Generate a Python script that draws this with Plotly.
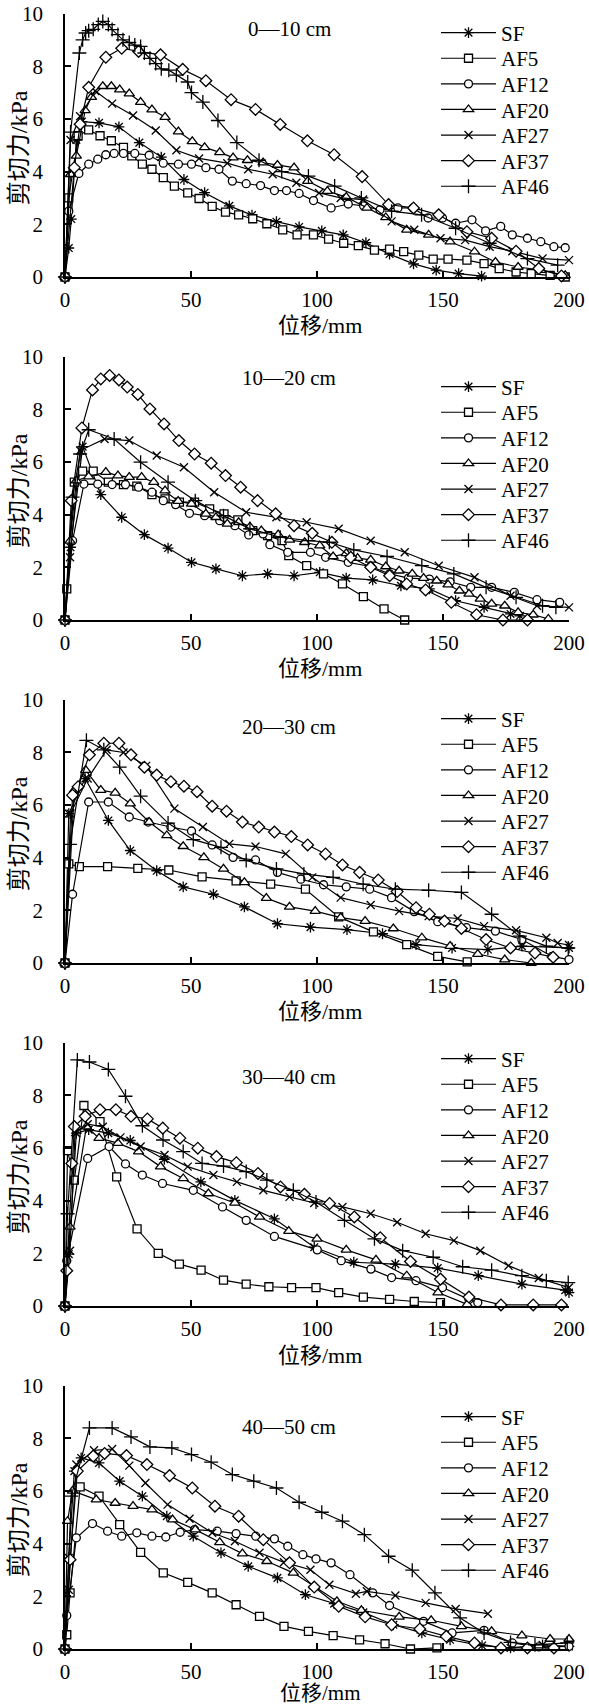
import plotly.graph_objects as go

# ---------------- data ----------------
depth_labels = ["0—10 cm", "10—20 cm", "20—30 cm", "30—40 cm", "40—50 cm"]
series_names = ["SF", "AF5", "AF12", "AF20", "AF27", "AF37", "AF46"]
x_ticks = [0, 50, 100, 150, 200]
y_ticks = [0, 2, 4, 6, 8, 10]
x_title = "位移/mm"
y_title = "剪切力/kPa"

# 0-10 cm
p1_SF_x = [0, 1.5, 2.5, 4.5, 6.7, 13.5, 21.4, 29.5, 38.2, 47.2, 55.4, 65.2, 74.2, 83.9, 92.9, 101.9, 110.4, 119.4, 128.8, 138.3, 147.3, 156.2, 165.3]
p1_SF_y = [0, 1.1, 2.2, 5.2, 5.9, 5.85, 5.7, 5.1, 4.55, 3.7, 3.2, 2.7, 2.35, 2.1, 1.9, 1.75, 1.6, 1.3, 0.87, 0.5, 0.26, 0.13, 0.03]
p1_AF5_x = [0, 1.5, 5.2, 9.4, 13.9, 18.4, 23.2, 26.5, 30.7, 34.5, 39, 43.4, 48.7, 53.2, 58.4, 63.7, 68.9, 74.5, 80.1, 86.4, 92.1, 98.6, 104.6, 110.6, 116.4, 122.8, 128.8, 134.4, 140.4, 146.1, 152, 159.5, 166.3, 172.3, 179, 185, 192.5, 198.5]
p1_AF5_y = [0, 3.0, 5.36, 5.58, 5.36, 5.17, 4.92, 4.6, 4.28, 4.09, 3.77, 3.45, 3.19, 2.98, 2.68, 2.46, 2.36, 2.21, 2.02, 1.79, 1.6, 1.6, 1.44, 1.28, 1.19, 1.02, 1.06, 0.96, 0.83, 0.68, 0.68, 0.64, 0.51, 0.32, 0.19, 0.13, 0.06, 0]
p1_AF12_x = [0, 1.5, 5.5, 9.4, 13, 16.2, 19.5, 23.2, 27.7, 33.4, 39, 45, 50.2, 55.9, 61.1, 66.4, 71.9, 77.6, 83.1, 87.9, 92.9, 98.6, 105.6, 112.4, 118.5, 125, 132.1, 138.1, 144.1, 149.8, 155, 161.5, 166.9, 172.9, 177.5, 183.5, 188.8, 194, 198.5]
p1_AF12_y = [0, 2.5, 3.93, 4.28, 4.47, 4.64, 4.69, 4.69, 4.69, 4.62, 4.32, 4.28, 4.28, 4.15, 4.09, 3.64, 3.54, 3.47, 3.28, 3.28, 3.17, 2.9, 2.62, 2.77, 2.7, 2.55, 2.62, 2.62, 2.24, 2.24, 2.04, 2.17, 1.75, 1.92, 1.6, 1.47, 1.34, 1.15, 1.11]
p1_AF20_x = [0, 2.2, 4.5, 8, 10.5, 15, 18.4, 21.7, 25.5, 30, 34.5, 39.7, 45, 50.5, 55.4, 61.4, 66.7, 72.4, 78.6, 84.3, 90.9, 96.3, 104.1, 111.6, 119.8, 127.3, 135.6, 144.3, 152.8, 162.5, 170.8, 179.8, 188.8, 198.5]
p1_AF20_y = [0, 3.9, 4.6, 6.32, 6.83, 7.24, 7.24, 7.11, 6.96, 6.64, 6.35, 6.07, 5.52, 5.15, 4.92, 4.73, 4.53, 4.43, 4.34, 4.25, 4.15, 3.64, 3.26, 3.03, 2.62, 2.26, 1.79, 1.6, 1.34, 0.96, 0.57, 0.38, 0.26, 0.06]
p1_AF27_x = [0, 2.2, 6, 12, 18.7, 27, 36, 44.2, 53.2, 64.4, 72.7, 82.4, 91.8, 100.8, 109.4, 118.3, 129.6, 138.6, 149, 158.8, 168.5, 177.5, 189.5, 200]
p1_AF27_y = [0, 5.2, 6.1, 7.06, 6.58, 6.13, 5.56, 4.81, 4.5, 4.32, 4.09, 3.9, 3.58, 3.19, 3.0, 2.94, 2.11, 1.79, 1.47, 1.4, 1.15, 0.98, 0.7, 0.64]
p1_AF37_x = [0, 3.7, 6, 9.4, 16.2, 22.5, 29.2, 37.9, 46.7, 55.9, 65.9, 75.6, 85.4, 96.2, 106.8, 117.9, 128.4, 138.3, 148.3, 159.5, 169.3, 179, 188, 197]
p1_AF37_y = [0, 4.15, 5.8, 7.2, 8.34, 8.68, 8.56, 8.43, 7.88, 7.45, 6.73, 6.36, 5.79, 5.17, 4.64, 3.81, 2.75, 2.62, 2.36, 1.72, 1.47, 0.98, 0.32, 0.04]
p1_AF46_x = [0, 2.2, 5.7, 7, 8.2, 9.4, 11.2, 13.2, 15, 17.2, 18.7, 21, 23, 25.5, 27.7, 30, 31.5, 33.7, 36, 38.2, 41.2, 44.2, 48.7, 50.2, 54.7, 60.7, 68.2, 77, 86, 96.6, 107, 117.6, 129.6, 141.5, 155, 168.5, 183.5, 195.5]
p1_AF46_y = [0, 5.5, 8.5, 9.0, 9.26, 9.35, 9.4, 9.58, 9.7, 9.58, 9.39, 9.2, 9.0, 8.9, 8.8, 8.75, 8.5, 8.3, 8.1, 7.9, 7.85, 7.66, 7.4, 7.0, 6.64, 5.94, 5.1, 4.43, 4.0, 3.83, 3.45, 3.0, 2.5, 2.36, 1.85, 1.28, 0.7, 0.45]

# 10-20 cm
p2_SF_x = [0, 2.2, 7, 14.2, 22.5, 31.5, 40.9, 50.2, 59.9, 70.4, 80.4, 90.9, 101.1, 111.6, 122.1, 133.3, 144.6, 155, 166.3, 176.8, 180.5]
p2_SF_y = [0, 2.76, 6.58, 4.76, 3.9, 3.24, 2.73, 2.19, 1.94, 1.68, 1.75, 1.68, 1.81, 1.59, 1.52, 1.3, 1.18, 0.73, 0.48, 0.23, 0.16]
p2_AF5_x = [0, 0.7, 3.7, 7, 11.2, 17.2, 23.2, 28.5, 34.5, 39.7, 45.4, 51.4, 57.4, 63.1, 68.6, 74.5, 80.4, 86.1, 88.8, 95.9, 102.6, 110.1, 118.4, 126.6, 134.8]
p2_AF5_y = [0, 1.18, 5.23, 5.65, 5.65, 5.23, 5.14, 5.08, 4.76, 4.6, 4.47, 4.47, 4.22, 4.03, 3.8, 3.39, 3.2, 3.01, 2.44, 2.06, 1.75, 1.37, 0.89, 0.42, 0]
p2_AF12_x = [0, 3, 7.5, 13, 18.7, 24, 29.2, 34.5, 39, 43.9, 49.4, 55.4, 61.4, 67.4, 72.9, 78.6, 81.3, 88.4, 97.4, 103.4, 112.4, 121.3, 128.8, 136.3, 144.6, 152.8, 161, 169.3, 178.3, 187.3, 196.3]
p2_AF12_y = [0, 3.01, 5.16, 5.16, 5.14, 5.14, 5.04, 4.85, 4.53, 4.38, 4.05, 3.96, 3.77, 3.58, 3.23, 3.27, 2.86, 2.57, 2.57, 2.38, 2.19, 2.03, 1.75, 1.59, 1.55, 1.45, 1.24, 1.24, 1.05, 0.77, 0.67]
p2_AF20_x = [0, 2, 4.5, 9.4, 16.2, 21, 25.5, 30.4, 35.2, 39.7, 44.9, 50.2, 55.9, 59.9, 64.4, 68.9, 73.4, 77.9, 84.6, 89.1, 95.1, 101.1, 106.4, 111.6, 116.1, 121.3, 127.3, 132.6, 137.8, 142.3, 147.5, 152, 156.5, 160.3, 164.8, 169.3, 174.5, 179.8, 185.8, 191.8]
p2_AF20_y = [0, 3.0, 5.29, 5.44, 5.61, 5.48, 5.42, 5.42, 5.23, 4.91, 4.51, 4.41, 4.03, 3.9, 3.65, 3.71, 3.54, 3.39, 3.24, 3.04, 2.95, 2.82, 2.41, 2.53, 2.35, 2.28, 2.03, 1.87, 1.75, 1.59, 1.49, 1.34, 1.11, 0.99, 0.8, 0.61, 0.54, 0.29, 0.2, 0.04]
p2_AF27_x = [0, 2, 6, 15.7, 25.5, 36.4, 47.2, 59.2, 71.9, 83.9, 95.9, 108.6, 121.3, 134.8, 148.3, 162.5, 176.8, 187.3, 200]
p2_AF27_y = [0, 2.38, 6.43, 6.87, 6.81, 6.24, 5.8, 4.85, 4.09, 3.9, 3.71, 3.46, 3.01, 2.57, 2.06, 1.62, 0.92, 0.54, 0.48]
p2_AF37_x = [0, 2.5, 6.7, 10.9, 14.2, 17.7, 21.4, 24.7, 28.9, 33.7, 39.3, 45.2, 51.4, 58, 63.7, 69.7, 76.4, 83.6, 90.9, 98.1, 105.9, 113.4, 121.3, 128.8, 135.6, 143.1, 153.3, 163.3, 173.8, 183.5]
p2_AF37_y = [0, 4.53, 7.29, 8.73, 9.15, 9.28, 9.11, 8.84, 8.56, 8.01, 7.44, 6.81, 6.3, 5.95, 5.48, 5.04, 4.53, 4.03, 3.58, 3.29, 2.95, 2.38, 2.0, 1.68, 1.37, 1.14, 0.67, 0.2, 0, 0]
p2_AF46_x = [0, 3, 6, 9.4, 19.5, 30, 40.9, 51.7, 62.9, 73.4, 85.4, 96.6, 104.9, 114.6, 127.8, 141.6, 154.3, 167.1, 179, 189.5, 194.8]
p2_AF46_y = [0, 4.66, 6.3, 7.22, 6.87, 5.99, 5.23, 4.53, 3.96, 3.46, 3.14, 3.01, 2.95, 2.66, 2.41, 2.06, 1.75, 1.24, 0.86, 0.54, 0.48]

# 20-30 cm
p3_SF_x = [0, 1.5, 8, 17.2, 25.9, 36.4, 46.9, 58.9, 71.2, 84.3, 97.4, 111.9, 126, 139.3, 153.6, 167.8, 181.3, 200]
p3_SF_y = [0, 5.67, 7.0, 5.41, 4.27, 3.5, 2.89, 2.61, 2.13, 1.49, 1.36, 1.27, 1.11, 0.7, 0.57, 0.51, 0.64, 0.57]
p3_AF5_x = [0, 1.5, 5.7, 16.9, 28.9, 41.2, 54.4, 67.9, 81.6, 95.4, 108.6, 122.4, 135.6, 147.9, 159.6]
p3_AF5_y = [0, 3.76, 3.66, 3.66, 3.59, 3.53, 3.27, 3.12, 2.99, 2.8, 1.75, 1.18, 0.7, 0.25, 0.04]
p3_AF12_x = [0, 3, 9.4, 17.2, 25.5, 33, 42, 50.2, 58.4, 66.7, 75.6, 84.3, 93.6, 102.6, 111.6, 120.9, 129.6, 138.6, 147.9, 159.3, 170.8, 181.3, 193.3, 200]
p3_AF12_y = [0, 2.61, 6.11, 6.11, 5.54, 5.35, 5.16, 5.01, 4.48, 4.01, 3.91, 3.44, 3.18, 2.97, 2.89, 2.8, 2.48, 1.95, 1.57, 1.34, 1.21, 0.89, 0.25, 0.13]
p3_AF20_x = [0, 3.7, 8.2, 14.2, 19.9, 25.9, 33.4, 40.4, 46.9, 55.1, 62.9, 71.2, 79.9, 89.1, 99.3, 109.4, 119.1, 130.3, 141.6, 152.8, 163.8, 174.5, 185]
p3_AF20_y = [0, 6.56, 7.32, 6.56, 6.46, 6.05, 5.35, 4.84, 4.43, 4.01, 3.57, 3.06, 2.46, 2.13, 1.97, 1.72, 1.59, 1.31, 0.96, 0.64, 0.34, 0.13, 0]
p3_AF27_x = [0, 2.2, 9, 16.5, 23.2, 32.2, 43.4, 54.7, 65.2, 75.6, 87.6, 98.1, 109.4, 121.3, 132.6, 144.3, 155.8, 166.3, 179, 191, 195.5, 200]
p3_AF27_y = [0, 5.67, 7.0, 8.09, 7.99, 7.48, 5.86, 5.16, 4.52, 4.42, 4.14, 3.25, 2.48, 2.2, 1.97, 1.78, 1.69, 1.4, 1.24, 0.96, 0.76, 0.68]
p3_AF37_x = [0, 3, 5.2, 9.7, 15.4, 21.4, 26.2, 31.5, 36.4, 42, 47.2, 52.4, 58.4, 64.1, 70.4, 76.9, 83.1, 89.8, 96.3, 103.4, 110.1, 116.9, 124.3, 131.8, 139.3, 144.6, 150.6, 157.3, 167.1, 176.8, 186.5, 193.7]
p3_AF37_y = [0, 6.37, 6.69, 7.9, 8.34, 8.34, 7.9, 7.43, 7.13, 6.88, 6.71, 6.5, 5.95, 5.76, 5.35, 5.16, 4.97, 4.8, 4.48, 4.14, 3.72, 3.44, 3.15, 2.71, 2.1, 1.85, 1.59, 1.31, 0.89, 0.57, 0.38, 0.22]
p3_AF46_x = [0, 2, 8.5, 15.4, 21.7, 30, 40.9, 50.9, 61.9, 71.9, 83.9, 94.8, 106.4, 118.3, 131.1, 144.3, 157.3, 169.3, 180.5, 191, 199.7]
p3_AF46_y = [0, 4.5, 8.45, 8.09, 7.43, 6.33, 5.31, 4.68, 4.39, 3.89, 3.57, 3.38, 3.25, 2.99, 2.8, 2.76, 2.68, 1.85, 1.02, 0.64, 0.57]

# 30-40 cm
p4_SF_x = [0, 1.5, 4.5, 9.4, 17.2, 25.9, 39.4, 53.9, 67.4, 83.1, 98.9, 114.6, 131.1, 147.9, 164, 181.3, 198.5, 200]
p4_SF_y = [0, 1.97, 6.56, 6.69, 6.56, 6.28, 5.57, 4.71, 4.01, 3.31, 2.23, 1.66, 1.59, 1.44, 1.15, 0.83, 0.6, 0.51]
p4_AF5_x = [0, 1, 3.7, 7.5, 13.9, 20.5, 28.6, 37, 45.4, 54, 62.9, 71.9, 80.9, 89.9, 99.6, 108.6, 118.4, 128.8, 138.6, 149]
p4_AF5_y = [0, 5.9, 4.78, 7.61, 7.0, 4.9, 2.93, 2.0, 1.59, 1.36, 0.98, 0.83, 0.73, 0.7, 0.7, 0.51, 0.34, 0.25, 0.17, 0.13]
p4_AF12_x = [0, 0.7, 9, 17.5, 24, 30.7, 38.7, 50.9, 62.5, 71.9, 83.1, 100.1, 109.6, 121.4, 129.6, 139.3, 149.8, 160.3, 163.8]
p4_AF12_y = [0, 1.72, 5.6, 6.05, 5.39, 4.97, 4.65, 4.39, 3.76, 3.25, 2.64, 2.13, 1.72, 1.4, 1.08, 0.96, 0.7, 0.25, 0.13]
p4_AF20_x = [0, 2, 8.5, 13.5, 21, 29.2, 37.9, 46.9, 56.9, 67.4, 77.2, 88.8, 100, 111.6, 123.4, 135.6, 148, 159.6]
p4_AF20_y = [0, 3.0, 6.81, 6.37, 6.18, 5.86, 5.29, 4.84, 4.27, 3.91, 3.38, 2.84, 2.55, 2.13, 1.75, 1.15, 0.51, 0.06]
p4_AF27_x = [0, 2, 4, 9, 15, 22, 30, 39.5, 48.7, 58.9, 68.2, 78.7, 89.1, 98.9, 110.1, 121.3, 131.8, 143.1, 154.3, 164.8, 176, 188, 200]
p4_AF27_y = [0, 2.1, 6.6, 6.9, 6.8, 6.4, 6.05, 5.73, 5.29, 4.97, 4.71, 4.39, 4.14, 3.91, 3.76, 3.5, 3.18, 2.74, 2.48, 2.1, 1.53, 1.06, 0.7]
p4_AF37_x = [0, 0.7, 2.7, 3.7, 8, 13.9, 20.2, 26.2, 32.7, 38.8, 45.6, 52.7, 60.1, 68, 76.6, 85.5, 95, 105, 114.8, 125.1, 137.1, 149, 160.3, 173, 185.8, 197]
p4_AF37_y = [0, 1.34, 5.41, 6.81, 7.2, 7.45, 7.45, 7.2, 7.1, 6.75, 6.37, 5.99, 5.67, 5.44, 5.03, 4.52, 4.24, 3.89, 3.38, 2.59, 1.69, 1.02, 0.34, 0.04, 0.04, 0.04]
p4_AF46_x = [0, 1, 4.9, 9.7, 17.2, 24, 30.7, 38.9, 46.9, 54.4, 62.9, 71.9, 80.1, 90.6, 99.6, 110.9, 122.8, 134, 146.1, 157.8, 169.3, 181.3, 191, 199.7]
p4_AF46_y = [0, 3.5, 9.34, 9.26, 8.98, 7.96, 6.84, 6.3, 5.86, 5.41, 5.31, 5.1, 4.78, 4.39, 3.95, 3.25, 2.55, 2.1, 1.85, 1.49, 1.36, 1.15, 0.96, 0.89]

# 40-50 cm
p5_SF_x = [0, 1.5, 3.7, 6.4, 13.5, 21.7, 30.7, 40.4, 50.9, 61.9, 72.7, 84.3, 95.4, 106.8, 118.4, 130.3, 141.6, 152.8, 165.5, 176.8, 189.5, 200]
p5_SF_y = [0, 3.46, 6.75, 7.25, 7.06, 6.37, 5.8, 5.04, 4.28, 3.65, 3.14, 2.7, 2.06, 1.72, 1.39, 0.92, 0.61, 0.35, 0.13, 0.04, 0.16, 0.1]
p5_AF5_x = [0, 0.7, 2, 6, 13.5, 21.7, 30, 39, 48.7, 58.4, 67.9, 77.2, 86.9, 96.6, 106.4, 116.9, 127, 137.1, 147.6]
p5_AF5_y = [0, 0.54, 2.13, 6.15, 5.8, 4.72, 3.67, 2.89, 2.53, 2.13, 1.68, 1.24, 0.86, 0.67, 0.51, 0.35, 0.2, 0, 0.04]
p5_AF12_x = [0, 0.7, 4.5, 10.9, 16.9, 22.5, 28.5, 34.5, 40, 45.7, 51.4, 60.4, 67.9, 75.7, 83.1, 88.4, 94.4, 99.6, 105.6, 113.1, 122.1, 128.8, 142.3, 153.6, 166.3, 177.5, 188, 200]
p5_AF12_y = [0, 1.27, 4.22, 4.76, 4.47, 4.28, 4.41, 4.28, 4.25, 4.43, 4.53, 4.47, 4.38, 4.28, 4.18, 3.9, 3.58, 3.42, 3.27, 2.82, 2.13, 1.65, 1.05, 0.61, 0.71, 0.23, 0.08, 0.1]
p5_AF20_x = [0, 1, 3, 12.4, 19.9, 27, 34.5, 42.7, 51.7, 61.4, 70.4, 80.1, 90.6, 98.9, 107.9, 117.6, 132.6, 145.3, 157.3, 169.3, 181.3, 192.5, 200]
p5_AF20_y = [0, 4.85, 6.0, 5.67, 5.54, 5.42, 5.29, 4.91, 4.53, 4.05, 3.62, 3.33, 2.89, 2.38, 1.81, 1.47, 1.22, 1.09, 0.86, 0.67, 0.51, 0.38, 0.38]
p5_AF27_x = [0, 1.5, 4.5, 11.5, 18.7, 25.5, 31.9, 40.7, 49.4, 58.4, 67.4, 77.2, 86.9, 97.4, 104.9, 115.4, 119.8, 131.1, 143.1, 155, 167.8]
p5_AF27_y = [0, 2.25, 7.0, 7.54, 7.59, 6.96, 6.3, 5.48, 4.94, 4.41, 4.09, 3.65, 3.29, 3.01, 2.44, 2.1, 2.19, 2.03, 1.75, 1.52, 1.34]
p5_AF37_x = [0, 2, 4.9, 11.2, 15.7, 24.4, 32.5, 41.5, 50.5, 59.5, 68.9, 78.7, 89.1, 98.9, 108.6, 119.1, 129.6, 140.8, 151.3, 162.5, 173, 183.5, 194]
p5_AF37_y = [0, 3.39, 6.75, 7.32, 7.42, 7.34, 7.0, 6.58, 6.11, 5.42, 5.04, 4.15, 3.27, 2.35, 1.62, 1.22, 0.92, 0.76, 0.48, 0.23, 0.04, 0.04, 0.04]
p5_AF46_x = [0, 2.5, 9.7, 18.7, 26.2, 33.7, 42.4, 50.2, 58, 66.4, 74.9, 83.9, 92.9, 101.9, 110.1, 118.8, 128.4, 137.8, 146.8, 156.8, 166.3, 176.8, 186.5, 199.3]
p5_AF46_y = [0, 5.8, 8.39, 8.39, 8.05, 7.67, 7.63, 7.38, 7.09, 6.62, 6.37, 6.11, 5.57, 5.19, 4.85, 4.34, 3.52, 2.99, 2.13, 1.18, 0.61, 0.25, 0.16, 0.23]

panels = [
    [(p1_SF_x, p1_SF_y), (p1_AF5_x, p1_AF5_y), (p1_AF12_x, p1_AF12_y), (p1_AF20_x, p1_AF20_y), (p1_AF27_x, p1_AF27_y), (p1_AF37_x, p1_AF37_y), (p1_AF46_x, p1_AF46_y)],
    [(p2_SF_x, p2_SF_y), (p2_AF5_x, p2_AF5_y), (p2_AF12_x, p2_AF12_y), (p2_AF20_x, p2_AF20_y), (p2_AF27_x, p2_AF27_y), (p2_AF37_x, p2_AF37_y), (p2_AF46_x, p2_AF46_y)],
    [(p3_SF_x, p3_SF_y), (p3_AF5_x, p3_AF5_y), (p3_AF12_x, p3_AF12_y), (p3_AF20_x, p3_AF20_y), (p3_AF27_x, p3_AF27_y), (p3_AF37_x, p3_AF37_y), (p3_AF46_x, p3_AF46_y)],
    [(p4_SF_x, p4_SF_y), (p4_AF5_x, p4_AF5_y), (p4_AF12_x, p4_AF12_y), (p4_AF20_x, p4_AF20_y), (p4_AF27_x, p4_AF27_y), (p4_AF37_x, p4_AF37_y), (p4_AF46_x, p4_AF46_y)],
    [(p5_SF_x, p5_SF_y), (p5_AF5_x, p5_AF5_y), (p5_AF12_x, p5_AF12_y), (p5_AF20_x, p5_AF20_y), (p5_AF27_x, p5_AF27_y), (p5_AF37_x, p5_AF37_y), (p5_AF46_x, p5_AF46_y)],
]

# ---------------- style ----------------
W, H = 589, 1706
ML, MR, MT, MB = 65, 20, 13, 56
PH = H - MT - MB
PW = W - ML - MR
SERIF = "Liberation Serif, Times New Roman, serif"
MIXED = "Liberation Serif, Noto Sans CJK SC, serif"

symbols = ["asterisk-open", "square", "circle", "triangle-up", "x-thin-open", "diamond", "cross-thin-open"]
sizes = [9, 8, 8, 9, 8, 9, 10]
fills = ["black", "white", "white", "white", "black", "white", "black"]

panel_top_px = [13.5 + 343 * i for i in range(5)]
panel_h_px = 263.5
title_rel_px = [16, 21, 27, 34, 41]
legend_first_px = [33, 387, 719, 1059, 1417]
legend_step_px = 25.6
legend_left_px = 436
xtitle_gap_px = [49, 49, 49, 49, 44]
xtitle_size = [22, 22, 22, 22, 21]

def py(px):
    return (H - MB - px) / PH

def pxx(px):
    return (px - ML) / PW

fig = go.Figure()
layout = dict(
    width=W, height=H,
    margin=dict(l=ML, r=MR, t=MT, b=MB, autoexpand=False),
    paper_bgcolor="white", plot_bgcolor="white",
    showlegend=True,
    annotations=[],
)

for i, series in enumerate(panels):
    xa = "x" if i == 0 else f"x{i+1}"
    ya = "y" if i == 0 else f"y{i+1}"
    for j, (xs, ys) in enumerate(series):
        k = i * 7 + j + 1
        lg = "legend" if k == 1 else f"legend{k}"
        fig.add_trace(go.Scatter(
            x=xs, y=ys, mode="lines+markers", name=series_names[j],
            xaxis=xa, yaxis=ya, legend=lg, cliponaxis=False,
            line=dict(color="black", width=1.2),
            marker=dict(symbol=symbols[j], size=sizes[j], color=fills[j],
                        line=dict(color="black", width=1.3)),
        ))
        layout[lg] = dict(
            x=pxx(legend_left_px),
            y=py(legend_first_px[i] + j * legend_step_px),
            xanchor="left", yanchor="middle",
            bgcolor="rgba(0,0,0,0)", borderwidth=0,
            font=dict(family=SERIF, size=21, color="black"),
            itemwidth=55,
        )
    top = panel_top_px[i]
    bottom = top + panel_h_px
    axis_common = dict(
        showline=True, linecolor="black", linewidth=1.8, mirror=False,
        ticks="inside", ticklen=6, tickwidth=1.5, tickcolor="black",
        showgrid=False, zeroline=False, automargin=False,
        tickfont=dict(family=SERIF, size=21, color="black"),
    )
    layout["xaxis" if i == 0 else f"xaxis{i+1}"] = dict(
        axis_common, domain=[0, 1], anchor=ya, range=[0, 200], tickvals=x_ticks,
        ticklabelstandoff=3,
    )
    layout["yaxis" if i == 0 else f"yaxis{i+1}"] = dict(
        axis_common, domain=[py(bottom), py(top)], anchor=xa, range=[0, 10], tickvals=y_ticks,
        ticklabelstandoff=16,
    )
    # depth label
    layout["annotations"].append(dict(
        xref=xa, yref=ya, x=89, y=10 - title_rel_px[i] / 26.35,
        text=depth_labels[i], showarrow=False,
        font=dict(family=SERIF, size=21, color="black"),
        xanchor="center", yanchor="middle",
    ))
    # axis titles
    layout["annotations"].append(dict(
        xref="paper", yref="paper", x=pxx(320), y=py(bottom + xtitle_gap_px[i]),
        text=x_title, showarrow=False, borderpad=0,
        font=dict(family=MIXED, size=xtitle_size[i], color="black"),
        xanchor="center", yanchor="middle",
    ))
    layout["annotations"].append(dict(
        xref="paper", yref="paper", x=pxx(19), y=py((top + bottom) / 2 + 3),
        text=y_title, showarrow=False, textangle=-90, borderpad=0,
        font=dict(family=MIXED, size=24, color="black"),
        xanchor="center", yanchor="middle",
    ))

fig.update_layout(**layout)
fig.write_html(
    "out.html",
    config={"displayModeBar": False},
    post_script="document.body.style.margin='0px';document.documentElement.style.overflow='hidden';",
)
